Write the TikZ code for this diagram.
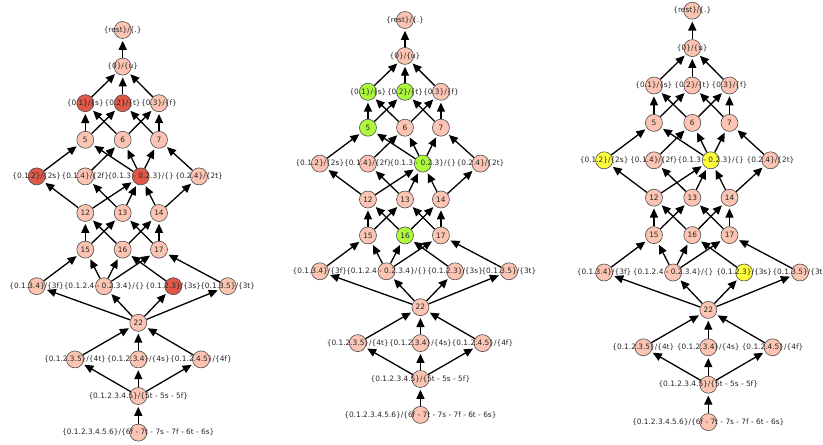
\documentclass[tikz,border=0pt]{standalone}
\usepackage{fontspec}
\setmainfont{DejaVu Sans}
\usetikzlibrary{arrows.meta,backgrounds}
\definecolor{lite}{RGB}{252,196,178}
\definecolor{hot}{RGB}{224,88,72}
\definecolor{grn}{RGB}{173,250,60}
\definecolor{yel}{RGB}{255,255,60}
\tikzset{
  nd/.style={circle, draw=black!70, line width=0.6pt, minimum size=17pt, inner sep=0pt},
  lbl/.style={inner sep=0pt, font=\fontsize{7.4}{9}\selectfont, text=black!85},
  edge/.style={line width=1.3pt, -{Triangle[length=9pt,width=8pt]}, shorten >=2pt}
}
\newcommand\lattice[5]{%
\begin{scope}[shift={(#2,#3)}, x=#4pt, y=-#5pt]
  % nodes
  \node[nd, fill=lite] (#1-r) at (0,0) {};
  \node[nd, fill=lite] (#1-0) at (0,1) {};
  \node[nd, fill=\colA] (#1-01) at (-37.4,2) {};
  \node[nd, fill=\colB] (#1-02) at (0,2) {};
  \node[nd, fill=lite] (#1-03) at (36.3,2) {};
  \node[nd, fill=\colC] (#1-5) at (-37.4,3) {};
  \node[nd, fill=lite] (#1-6) at (0,3) {};
  \node[nd, fill=lite] (#1-7) at (36.3,3) {};
  \node[nd, fill=\colD] (#1-012) at (-86,4) {};
  \node[nd, fill=lite] (#1-014) at (-37.4,4) {};
  \node[nd, fill=\colE] (#1-c4) at (18,4) {};
  \node[nd, fill=lite] (#1-024) at (76.3,4) {};
  \node[nd, fill=lite] (#1-12) at (-37.4,5) {};
  \node[nd, fill=lite] (#1-13) at (0,5) {};
  \node[nd, fill=lite] (#1-14) at (36.3,5) {};
  \node[nd, fill=lite] (#1-15) at (-37.4,6) {};
  \node[nd, fill=\colF] (#1-16) at (0,6) {};
  \node[nd, fill=lite] (#1-17) at (36.3,6) {};
  \node[nd, fill=lite] (#1-0134) at (-86,7) {};
  \node[nd, fill=lite] (#1-c7) at (-18.7,7) {};
  \node[nd, fill=\colG] (#1-0123) at (50.6,7) {};
  \node[nd, fill=lite] (#1-0135) at (105,7) {};
  \node[nd, fill=lite] (#1-22) at (15.6,8) {};
  \node[nd, fill=lite] (#1-01235) at (-47.7,9) {};
  \node[nd, fill=lite] (#1-01234) at (15.6,9) {};
  \node[nd, fill=lite] (#1-01245) at (78.3,9) {};
  \node[nd, fill=lite] (#1-012345) at (15.6,10) {};
  \node[nd, fill=lite] (#1-bot) at (15.6,11) {};
  % edges
  \begin{scope}[on background layer]
  \foreach \s/\t in {0/r, 01/0, 02/0, 03/0, 5/01, 5/02, 6/01, 6/03, 7/02, 7/03,
     012/5, 014/6, c4/5, c4/6, c4/7, 024/7, 12/012, 12/c4, 13/014, 13/c4, 14/c4, 14/024,
     15/12, 15/13, 16/12, 16/14, 17/13, 17/14, 0134/15, c7/15, c7/16, c7/17, 0123/16, 0135/17,
     22/0134, 22/c7, 22/0123, 22/0135, 01235/22, 01234/22, 01245/22,
     012345/01235, 012345/01234, 012345/01245, bot/012345}
     \draw[edge] (#1-\s) -- (#1-\t);
  \end{scope}
  % labels
  \node[lbl] (#1-rL) at (#1-r) {\{rest\}/\{.\}};
  \node[lbl] (#1-0L) at (#1-0) {\{0\}/\{u\}};
  \node[lbl] (#1-01L) at (#1-01) {\{0.1\}/\{s\}};
  \node[lbl] (#1-02L) at (#1-02) {\{0.2\}/\{t\}};
  \node[lbl] (#1-03L) at (#1-03) {\{0.3\}/\{f\}};
  \node[lbl] (#1-5L) at (#1-5) {5};
  \node[lbl] (#1-6L) at (#1-6) {6};
  \node[lbl] (#1-7L) at (#1-7) {7};
  \node[lbl] (#1-012L) at (#1-012) {\{0.1.2\}/\{2s\}};
  \node[lbl] (#1-014L) at (#1-014) {\{0.1.4\}/\{2f\}};
  \node[lbl] (#1-c4L) at (#1-c4) {\{0.1.3 - 0.2.3\}/\{\}};
  \node[lbl] (#1-024L) at (#1-024) {\{0.2.4\}/\{2t\}};
  \node[lbl] (#1-12L) at (#1-12) {12};
  \node[lbl] (#1-13L) at (#1-13) {13};
  \node[lbl] (#1-14L) at (#1-14) {14};
  \node[lbl] (#1-15L) at (#1-15) {15};
  \node[lbl] (#1-16L) at (#1-16) {16};
  \node[lbl] (#1-17L) at (#1-17) {17};
  \node[lbl] (#1-0134L) at (#1-0134) {\{0.1.3.4\}/\{3f\}};
  \node[lbl] (#1-c7L) at (#1-c7) {\{0.1.2.4 - 0.2.3.4\}/\{\}};
  \node[lbl] (#1-0123L) at (#1-0123) {\{0.1.2.3\}/\{3s\}};
  \node[lbl] (#1-0135L) at (#1-0135) {\{0.1.3.5\}/\{3t\}};
  \node[lbl] (#1-22L) at (#1-22) {22};
  \node[lbl] (#1-01235L) at (#1-01235) {\{0.1.2.3.5\}/\{4t\}};
  \node[lbl] (#1-01234L) at (#1-01234) {\{0.1.2.3.4\}/\{4s\}};
  \node[lbl] (#1-01245L) at (#1-01245) {\{0.1.2.4.5\}/\{4f\}};
  \node[lbl] (#1-012345L) at (#1-012345) {\{0.1.2.3.4.5\}/\{5t - 5s - 5f\}};
  \node[lbl] (#1-botL) at (#1-bot) {\{0.1.2.3.4.5.6\}/\{6f - 7t - 7s - 7f - 6t - 6s\}};
\end{scope}}
\begin{document}
\begin{tikzpicture}[x=1pt, y=-1pt]
\useasboundingbox (0,0) rectangle (823,445);
\def\colA{hot}\def\colB{hot}\def\colC{lite}\def\colD{hot}\def\colE{hot}\def\colF{lite}\def\colG{hot}
\lattice{a}{122.7}{30}{1}{36.6}
\def\colA{grn}\def\colB{grn}\def\colC{grn}\def\colD{lite}\def\colE{grn}\def\colF{grn}\def\colG{lite}
\lattice{b}{405}{20}{0.99}{35.9}
\def\colA{lite}\def\colB{lite}\def\colC{lite}\def\colD{yel}\def\colE{yel}\def\colF{lite}\def\colG{yel}
\lattice{c}{692.3}{10.7}{1.025}{37.4}
\end{tikzpicture}
\end{document}
